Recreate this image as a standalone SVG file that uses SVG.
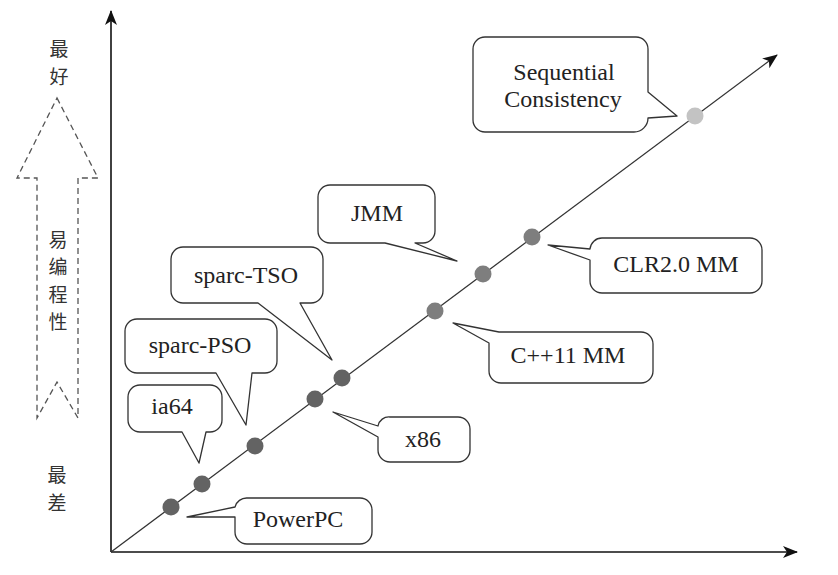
<svg xmlns="http://www.w3.org/2000/svg" width="838" height="575" viewBox="0 0 838 575">
<style>
.bg{fill:#ffffff}
.axis{stroke:#111;stroke-width:1.6;fill:none}
.diag{stroke:#333;stroke-width:1.3;fill:none}
.call{fill:#fff;stroke:#333;stroke-width:1.3;stroke-linejoin:round}
.lbl{font-family:"Liberation Serif","Times New Roman",serif;font-size:24px;fill:#222;text-anchor:middle}
.cjk{font-family:"Noto Sans CJK SC","Noto Sans CJK TC",sans-serif;font-size:19px;fill:#333;text-anchor:middle}
.dark{fill:#636363}
.mid{fill:#7e7e7e}
.light{fill:#c3c3c3}
.dash{fill:none;stroke:#555;stroke-width:1.3;stroke-dasharray:6 4}
</style>
<defs>
<marker id="ah" markerUnits="userSpaceOnUse" markerWidth="16" markerHeight="14" refX="14" refY="7" orient="auto">
<path d="M0,1 L15,7 L0,13 L4,7 Z" fill="#111"/>
</marker>
</defs>
<rect class="bg" width="838" height="575"/>
<g id="axes">
<line class="axis" x1="111" y1="552" x2="111" y2="11" marker-end="url(#ah)"/>
<line class="axis" x1="111" y1="552" x2="797" y2="552" marker-end="url(#ah)"/>
</g>
<g id="ease-arrow">
<path class="dash" d="M57,98 L98,178 L78,178 L78,418 L57,382 L37,418 L37,178 L17,178 Z"/>
<text class="cjk" x="59" y="56">最</text>
<text class="cjk" x="59" y="84">好</text>
<text class="cjk" x="58" y="247">易</text>
<text class="cjk" x="58" y="274">编</text>
<text class="cjk" x="58" y="302">程</text>
<text class="cjk" x="58" y="329">性</text>
<text class="cjk" x="57" y="482">最</text>
<text class="cjk" x="57" y="510">差</text>
</g>
<g id="connectors">
<line class="diag" x1="111" y1="552" x2="777" y2="55" marker-end="url(#ah)"/>
</g>
<g id="node-sc">
<path class="call" d="M485,37 H636 A12,12 0 0 1 648,49 V92 L677,116 L648,118 A14,14 0 0 1 634,132 H485 A12,12 0 0 1 473,120 V49 A12,12 0 0 1 485,37 Z"/>
<text class="lbl" x="564" y="80">Sequential</text>
<text class="lbl" x="563" y="107">Consistency</text>
<circle class="light" cx="695" cy="116" r="8.5"/>
</g>
<g id="node-jmm">
<path class="call" d="M330,185 H423 A12,12 0 0 1 435,197 V231 A12,12 0 0 1 423,243 H415 L457,261 L385,243 H330 A12,12 0 0 1 318,231 V197 A12,12 0 0 1 330,185 Z"/>
<text class="lbl" x="377" y="221">JMM</text>
<circle class="mid" cx="483" cy="274" r="8.5"/>
</g>
<g id="node-clr">
<path class="call" d="M602,238 H750 A12,12 0 0 1 762,250 V281 A12,12 0 0 1 750,293 H602 A12,12 0 0 1 590,281 V260 L548,245 L590,249 A12,12 0 0 1 602,238 Z"/>
<text class="lbl" x="676" y="272">CLR2.0 MM</text>
<circle class="mid" cx="532" cy="237" r="8.5"/>
</g>
<g id="node-cpp">
<path class="call" d="M499,332 H641 A12,12 0 0 1 653,344 V371 A12,12 0 0 1 641,383 H501 A12,12 0 0 1 489,371 V343 L453,323 Z"/>
<text class="lbl" x="568" y="363">C++11 MM</text>
<circle class="mid" cx="435" cy="311" r="8.5"/>
</g>
<g id="node-tso">
<path class="call" d="M183,247 H311 A12,12 0 0 1 323,259 V291 A12,12 0 0 1 311,303 H300 L332,360 L258,303 H183 A12,12 0 0 1 171,291 V259 A12,12 0 0 1 183,247 Z"/>
<text class="lbl" x="246" y="283">sparc-TSO</text>
<circle class="dark" cx="342" cy="378" r="8.5"/>
</g>
<g id="node-pso">
<path class="call" d="M137,319 H265 A12,12 0 0 1 277,331 V361 A12,12 0 0 1 265,373 H252 L246,425 L216,373 H137 A12,12 0 0 1 125,361 V331 A12,12 0 0 1 137,319 Z"/>
<text class="lbl" x="200" y="353">sparc-PSO</text>
<circle class="dark" cx="255" cy="446" r="8.5"/>
</g>
<g id="node-ia64">
<path class="call" d="M140,385 H210 A12,12 0 0 1 222,397 V420 A12,12 0 0 1 210,432 H206 L199,463 L182,432 H140 A12,12 0 0 1 128,420 V397 A12,12 0 0 1 140,385 Z"/>
<text class="lbl" x="172" y="414">ia64</text>
<circle class="dark" cx="202" cy="484" r="8.5"/>
</g>
<g id="node-x86">
<path class="call" d="M390,417 H458 A12,12 0 0 1 470,429 V450 A12,12 0 0 1 458,462 H390 A12,12 0 0 1 378,450 V437 L333,412 L378,426 A11,11 0 0 1 390,417 Z"/>
<text class="lbl" x="423" y="447">x86</text>
<circle class="dark" cx="315" cy="399" r="8.5"/>
</g>
<g id="node-powerpc">
<path class="call" d="M247,498 H360 A12,12 0 0 1 372,510 V532 A12,12 0 0 1 360,544 H247 A12,12 0 0 1 235,532 V517 L187,517 L235,507 A12,12 0 0 1 247,498 Z"/>
<text class="lbl" x="298" y="527">PowerPC</text>
<circle class="dark" cx="171" cy="507" r="8.5"/>
</g>
</svg>
